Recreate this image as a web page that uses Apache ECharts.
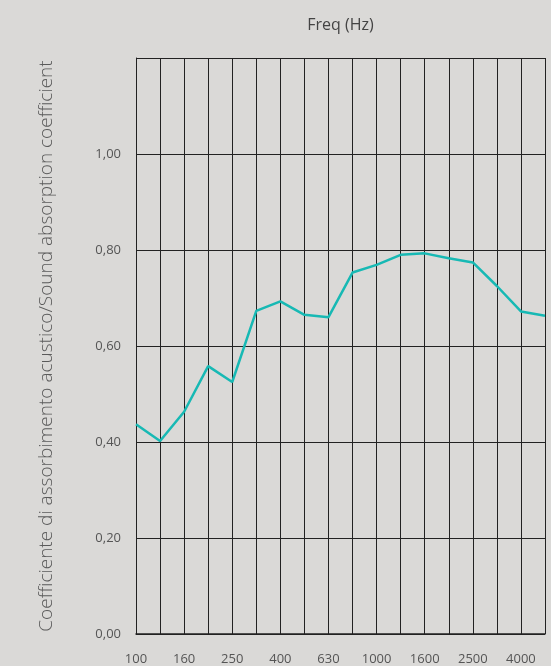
<!DOCTYPE html>
<html>
<head>
<meta charset="utf-8">
<script src="https://cdn.jsdelivr.net/npm/echarts@6/dist/echarts.min.js"></script>
<style>
  html, body { margin: 0; padding: 0; background: #dad9d7; }
  #chart { width: 551px; height: 666px; }
</style>
</head>
<body>
<div id="chart"></div>
<script>
// 1/3 octave bands
var freqs = ['100', '125', '160', '200', '250', '315', '400', '500', '630', '800',
             '1000', '1250', '1600', '2000', '2500', '3150', '4000', '5000'];
var alpha = [0.437, 0.402, 0.463, 0.558, 0.525, 0.673, 0.693, 0.665, 0.660, 0.753,
             0.769, 0.790, 0.793, 0.783, 0.774, 0.725, 0.672, 0.663];
var yTicks = [0, 0.2, 0.4, 0.6, 0.8, 1.0, 1.2];

var fontFam = '"Open Sans", "Noto Sans", sans-serif';
var gridColor = '#222';

var chart = echarts.init(document.getElementById('chart'));
var option = {
  backgroundColor: '#dad9d7',
  animation: false,
  grid: { left: 136, right: 6, top: 58, bottom: 32 },
  xAxis: [{
    type: 'category',
    data: freqs,
    boundaryGap: false,
    axisLine: { lineStyle: { color: gridColor, width: 1.5 } },
    axisTick: { show: false },
    axisLabel: {
      interval: 1,
      margin: 19,
      color: '#555',
      fontSize: 13,
      fontFamily: fontFam
    },
    splitLine: { show: true, interval: 0, lineStyle: { color: gridColor, width: 1 } }
  }, {
    type: 'category',
    position: 'top',
    data: freqs,
    name: 'Freq (Hz)',
    nameLocation: 'middle',
    nameGap: 25,
    nameTextStyle: { color: '#444', fontSize: 16, fontFamily: fontFam },
    axisLine: { show: false },
    axisTick: { show: false },
    axisLabel: { show: false },
    splitLine: { show: false }
  }],
  yAxis: {
    type: 'value',
    min: yTicks[0],
    max: yTicks[yTicks.length - 1],
    interval: 0.2,
    name: 'Coefficiente di assorbimento acustico/Sound absorption coefficient',
    nameLocation: 'middle',
    nameRotate: 90,
    nameGap: 80,
    nameTextStyle: { color: '#5a5a5a', fontSize: 19, fontWeight: 300, fontFamily: fontFam },
    axisLine: { show: true, lineStyle: { color: gridColor, width: 1 } },
    axisTick: { show: false },
    axisLabel: {
      margin: 15,
      color: '#555',
      fontSize: 13,
      fontFamily: fontFam,
      padding: [5, 0, 0, 0],
      formatter: function (v) {
        if (v > 1.1) return '';
        return v.toFixed(2).replace('.', ',');
      }
    },
    splitLine: { show: true, lineStyle: { color: gridColor, width: 1 } }
  },
  series: [{
    type: 'line',
    data: alpha,
    symbol: 'none',
    lineStyle: { color: '#17b9b4', width: 2.5 }
  }]
};
chart.setOption(option);
</script>
</body>
</html>
